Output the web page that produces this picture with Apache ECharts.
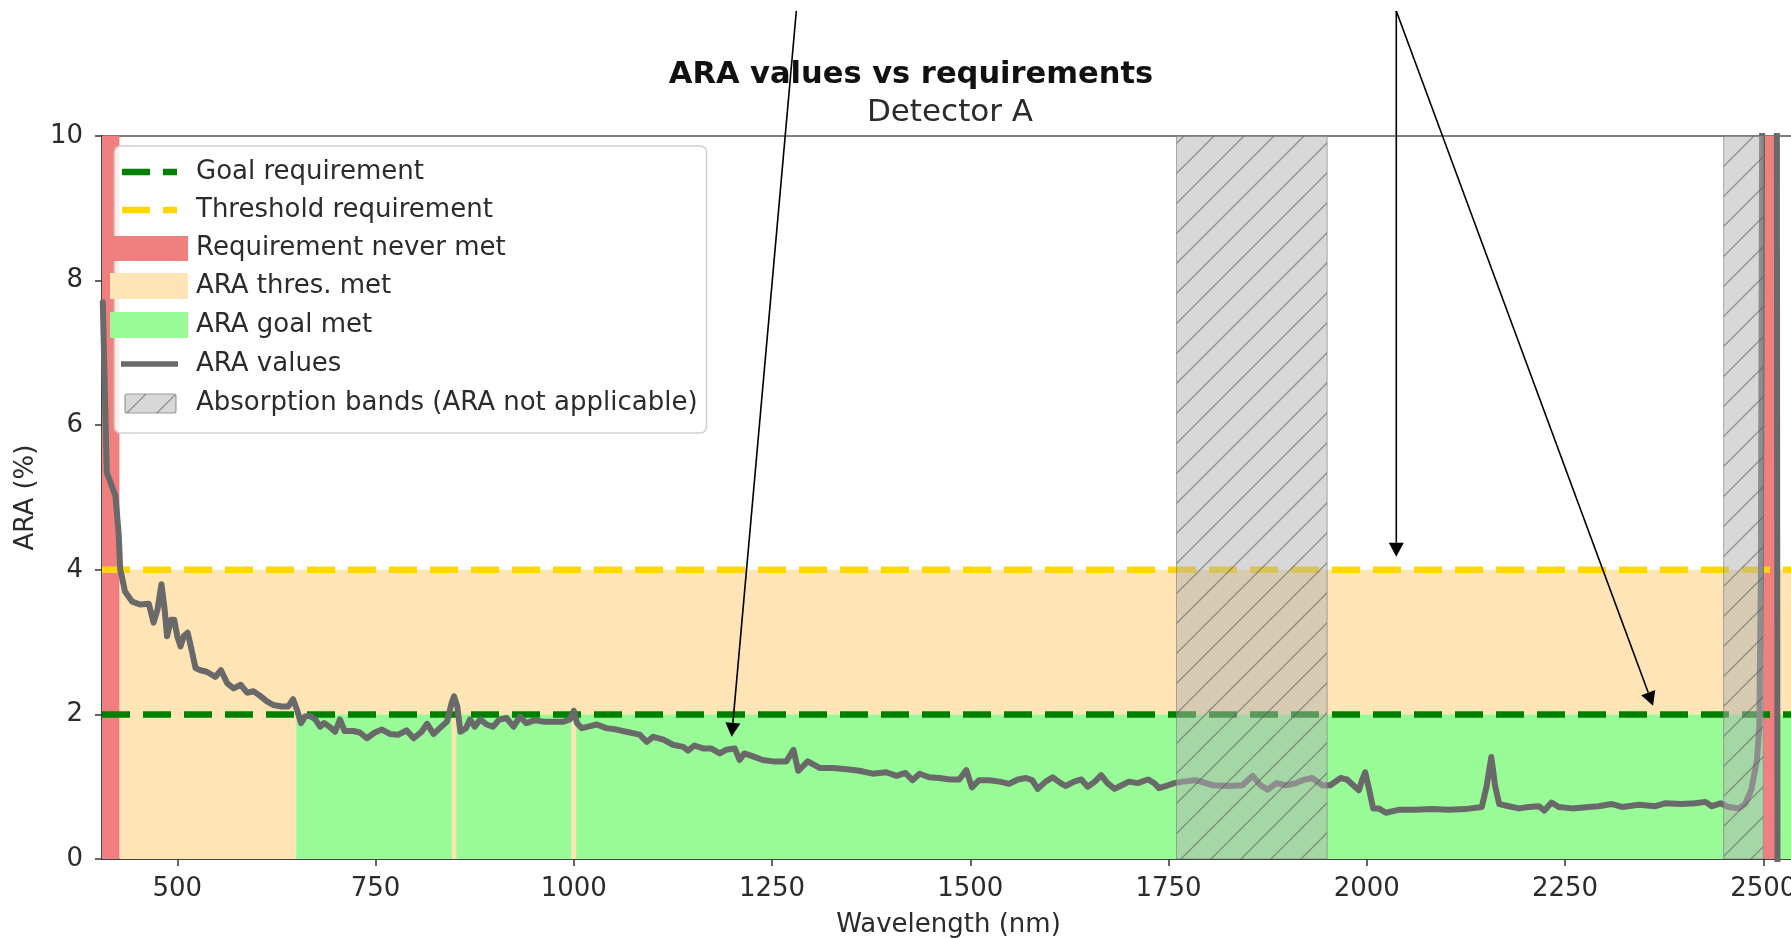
<!DOCTYPE html>
<html>
<head>
<meta charset="utf-8">
<script src="https://cdn.jsdelivr.net/npm/echarts@6/dist/echarts.min.js"></script>
<style>
html,body{margin:0;padding:0;background:#ffffff;}
#chart{width:1791px;height:938px;}
</style>
</head>
<body>
<div id="chart"></div>
<script>
// ---------------- data ----------------
const wavelengths = [406,411,416,422,426,428,430,434,443,453,464,470,475,480,484,487,492,496,500,504,508,513,517,523,529,537,548,555,563,571,580,588,596,604,613,621,632,640,646,651,656,661,667,674,680,685,692,699,705,711,722,730,739,749,758,768,779,789,798,808,815,823,831,840,846,849,853,857,864,869,875,882,890,898,906,915,924,932,940,951,962,974,987,995,1000,1004,1010,1018,1029,1041,1054,1066,1083,1092,1100,1113,1125,1138,1144,1152,1163,1173,1184,1192,1203,1209,1215,1226,1238,1251,1268,1277,1283,1295,1310,1327,1344,1360,1377,1394,1407,1418,1427,1436,1448,1461,1474,1486,1495,1502,1511,1524,1537,1549,1560,1570,1578,1585,1595,1604,1614,1620,1631,1640,1648,1657,1665,1673,1682,1691,1700,1711,1724,1732,1738,1747,1757,1768,1784,1806,1827,1843,1856,1866,1875,1886,1898,1911,1919,1931,1944,1954,1967,1975,1984,1990,1994,1998,2003,2008,2015,2024,2040,2061,2082,2103,2124,2145,2151,2157,2162,2167,2179,2192,2204,2217,2224,2233,2242,2259,2280,2292,2309,2322,2343,2364,2376,2397,2414,2427,2435,2446,2456,2469,2477,2485,2492,2495,2497,2499,2517,2518];
const araValues = [7.7,5.35,5.2,5.02,4.5,4.0,3.91,3.70,3.56,3.52,3.53,3.27,3.45,3.80,3.45,3.08,3.31,3.31,3.08,2.94,3.08,3.13,2.94,2.64,2.61,2.59,2.52,2.61,2.43,2.36,2.41,2.30,2.32,2.26,2.18,2.13,2.11,2.11,2.21,2.06,1.88,1.97,1.98,1.93,1.83,1.88,1.83,1.76,1.93,1.77,1.77,1.75,1.67,1.75,1.79,1.73,1.72,1.78,1.67,1.76,1.87,1.73,1.81,1.90,2.16,2.25,2.11,1.76,1.81,1.93,1.83,1.93,1.86,1.83,1.93,1.95,1.83,1.97,1.88,1.92,1.90,1.90,1.90,1.93,2.05,1.88,1.81,1.83,1.86,1.81,1.79,1.76,1.72,1.62,1.69,1.65,1.58,1.55,1.50,1.57,1.53,1.53,1.46,1.51,1.53,1.37,1.46,1.42,1.37,1.35,1.35,1.51,1.22,1.35,1.26,1.26,1.24,1.22,1.18,1.20,1.15,1.19,1.09,1.18,1.13,1.12,1.10,1.10,1.23,0.99,1.09,1.09,1.07,1.04,1.10,1.12,1.09,0.97,1.07,1.13,1.05,1.01,1.07,1.10,1.00,1.07,1.16,1.05,0.97,1.02,1.07,1.05,1.10,1.05,0.98,1.01,1.05,1.07,1.09,1.02,1.01,1.02,1.15,1.02,0.96,1.05,1.02,1.05,1.09,1.12,1.02,1.02,1.12,1.10,1.01,0.95,1.09,1.20,0.96,0.70,0.70,0.64,0.68,0.68,0.69,0.68,0.69,0.72,1.00,1.41,1.00,0.76,0.73,0.70,0.72,0.73,0.67,0.78,0.72,0.70,0.72,0.73,0.76,0.72,0.75,0.73,0.77,0.76,0.77,0.79,0.73,0.77,0.72,0.70,0.76,0.96,1.37,1.83,4.0,12,12,-1];

const goalRequirement = 2;
const thresholdRequirement = 4;
const xMin = 405, xMax = 2540, yMin = 0, yMax = 10;
const xTickValues = [500,750,1000,1250,1500,1750,2000,2250,2500];

// wavelength ranges [start, end] of each region
const neverMetRanges = [[405,427],[2500,2515]];
const thresMetRanges = [[427,2500],[2515,2540]];
const goalMetRanges = [[650,846],[852,997],[1003,2500],[2517,2540]];
const absorptionRanges = [[1760,1950],[2450,2500]];

const legendLabels = ['Goal requirement','Threshold requirement','Requirement never met','ARA thres. met','ARA goal met','ARA values','Absorption bands (ARA not applicable)'];

// annotation arrows: [tailX, tailY] -> [tipX, tipY] in data units
const arrowTails = [[1280.6,11.73],[2037.2,11.73],[2037.2,11.73]];
const arrowTips = [[1199,1.69],[2037.2,4.18],[2361,2.12]];

// ---------------- styling ----------------
const FONT = 'DejaVu Sans';
const TXT = '#2b2b2b';
const C_RED = '#F08080', C_MOC = '#FFE4B5', C_GREEN = '#98FB98';
const C_GOAL = '#008000', C_THR = '#FFD700', C_ARA = '#696969';

function makeHatch() {
  const s = 30;
  const cv = document.createElement('canvas');
  cv.width = s; cv.height = s;
  const ctx = cv.getContext('2d');
  ctx.fillStyle = 'rgba(178,178,178,0.5)';
  ctx.fillRect(0,0,s,s);
  ctx.strokeStyle = 'rgba(90,90,90,0.55)';
  ctx.lineWidth = 1.4;
  ctx.beginPath();
  ctx.moveTo(-5, s+5); ctx.lineTo(s+5, -5);
  ctx.moveTo(-5, 5); ctx.lineTo(5, -5);
  ctx.moveTo(s-5, s+5); ctx.lineTo(s+5, s-5);
  ctx.stroke();
  return cv;
}
const hatchCanvas = makeHatch();
const hatchFill = {type:'pattern', image: hatchCanvas, repeat: 'repeat'};

function bandSeries(name, ranges, y0, y1, fill, z, stroke) {
  return {
    name: name, type: 'custom', z: z, silent: true, clip: true,
    data: ranges.map(r => [r[0], r[1], y0, y1]),
    renderItem: function (params, api) {
      const p0 = api.coord([api.value(0), api.value(3)]);
      const p1 = api.coord([api.value(1), api.value(2)]);
      const style = {fill: fill};
      if (stroke) { style.stroke = stroke; style.lineWidth = 1; }
      return {type: 'rect', shape: {x: p0[0], y: p0[1], width: p1[0]-p0[0], height: p1[1]-p0[1]}, style: style};
    }
  };
}

const chart = echarts.init(document.getElementById('chart'), null, {renderer: 'canvas'});

const option = {
  backgroundColor: '#ffffff',
  animation: false,
  grid: {left: 102, right: -4, top: 136, bottom: 79, containLabel: false, outerBoundsMode: 'none',
         show: true, borderColor: '#555', borderWidth: 1.5, backgroundColor: 'transparent'},
  xAxis: {
    type: 'value', min: xMin, max: xMax,
    name: 'Wavelength (nm)', nameLocation: 'middle', nameGap: 53,
    nameTextStyle: {fontFamily: FONT, fontSize: 26, color: TXT},
    axisLine: {lineStyle: {color: '#333', width: 1.5}},
    axisTick: {show: true, length: 7, lineStyle: {color: '#333', width: 1.5}, customValues: xTickValues},
    axisLabel: {fontFamily: FONT, fontSize: 26, color: TXT, margin: 17, customValues: xTickValues, hideOverlap: false,
                formatter: function (v) { return String(Math.round(v)); }},
    splitLine: {show: false}
  },
  yAxis: {
    type: 'value', min: yMin, max: yMax, interval: 2,
    name: 'ARA (%)', nameLocation: 'middle', nameGap: 62, nameRotate: 90,
    nameTextStyle: {fontFamily: FONT, fontSize: 26, color: TXT},
    axisLine: {show: true, lineStyle: {color: '#333', width: 1.5}},
    axisTick: {show: true, length: 7, lineStyle: {color: '#333', width: 1.5}},
    axisLabel: {fontFamily: FONT, fontSize: 26, color: TXT, margin: 19},
    splitLine: {show: false}
  },
  series: [
    bandSeries('ARA thres. met', thresMetRanges, 0, thresholdRequirement, C_MOC, 1),
    bandSeries('ARA goal met', goalMetRanges, 0, goalRequirement, C_GREEN, 1),
    bandSeries('Requirement never met', neverMetRanges, 0, yMax, C_RED, 1),
    {name: 'Goal requirement', type: 'line', z: 2, silent: true, symbol: 'none',
     data: [[xMin, goalRequirement],[xMax, goalRequirement]],
     lineStyle: {color: C_GOAL, width: 6.5, type: [28,13], cap: 'butt'}},
    {name: 'Threshold requirement', type: 'line', z: 2, silent: true, symbol: 'none',
     data: [[xMin, thresholdRequirement],[xMax, thresholdRequirement]],
     lineStyle: {color: C_THR, width: 6.5, type: [28,13], cap: 'butt'}},
    {name: 'ARA values', type: 'line', z: 3, silent: true, symbol: 'none', clip: true,
     data: wavelengths.map((w,i) => [w, araValues[i]]),
     lineStyle: {color: C_ARA, width: 6, join: 'round', cap: 'round'}},
    bandSeries('Absorption bands (ARA not applicable)', absorptionRanges, yMin, yMax, hatchFill, 4, 'rgba(120,120,120,0.6)')
  ]
};
chart.setOption(option);

// ---------------- graphics: titles, legend, arrows ----------------
const g = [];
g.push({type: 'text', z: 20, style: {x: 911, y: 75, text: 'ARA values vs requirements', font: 'bold 30.5px "DejaVu Sans"', fill: '#111', align: 'center', verticalAlign: 'middle'}});
g.push({type: 'text', z: 20, style: {x: 950, y: 113, text: 'Detector A', font: '31px "DejaVu Sans"', fill: TXT, align: 'center', verticalAlign: 'middle'}});

// legend frame
g.push({type: 'rect', z: 10, shape: {x: 114.5, y: 146, width: 592, height: 287, r: 6},
        style: {fill: 'rgba(255,255,255,0.85)', stroke: '#d0d0d0', lineWidth: 1.5}});
const rowY = [172, 210, 248.5, 286, 325, 364, 403.5];
// handles
g.push({type: 'line', z: 11, shape: {x1: 122, y1: rowY[0], x2: 177, y2: rowY[0]}, style: {stroke: C_GOAL, lineWidth: 6.5, lineDash: [28,13]}});
g.push({type: 'line', z: 11, shape: {x1: 122, y1: rowY[1], x2: 177, y2: rowY[1]}, style: {stroke: C_THR, lineWidth: 6.5, lineDash: [28,13]}});
g.push({type: 'rect', z: 11, shape: {x: 108, y: rowY[2]-12.5, width: 80, height: 25}, style: {fill: C_RED}});
g.push({type: 'rect', z: 11, shape: {x: 110, y: rowY[3]-13, width: 78, height: 26}, style: {fill: C_MOC}});
g.push({type: 'rect', z: 11, shape: {x: 110, y: rowY[4]-13, width: 78, height: 26}, style: {fill: C_GREEN}});
g.push({type: 'line', z: 11, shape: {x1: 121, y1: rowY[5], x2: 178, y2: rowY[5]}, style: {stroke: C_ARA, lineWidth: 5.5}});
g.push({type: 'rect', z: 11, shape: {x: 125, y: rowY[6]-9.5, width: 51, height: 19, r: 2}, style: {fill: hatchFill, stroke: 'rgba(120,120,120,0.7)', lineWidth: 1.2}});
legendLabels.forEach((t, i) => {
  g.push({type: 'text', z: 11, style: {x: 196, y: rowY[i], text: t, font: '26px "DejaVu Sans"', fill: TXT, align: 'left', verticalAlign: 'middle'}});
});

// arrows
arrowTails.forEach((tail, i) => {
  const a = chart.convertToPixel({gridIndex: 0}, tail);
  const b = chart.convertToPixel({gridIndex: 0}, arrowTips[i]);
  const dx = b[0]-a[0], dy = b[1]-a[1];
  const L = Math.sqrt(dx*dx+dy*dy);
  const ux = dx/L, uy = dy/L, nx = -uy, ny = ux;
  const hl = 14, hw = 7.5;
  const bx = b[0]-ux*hl, by = b[1]-uy*hl;
  g.push({type: 'line', z: 30, shape: {x1: a[0], y1: a[1], x2: bx, y2: by}, style: {stroke: '#000', lineWidth: 1.6}});
  g.push({type: 'polygon', z: 30, shape: {points: [[b[0], b[1]], [bx+nx*hw, by+ny*hw], [bx-nx*hw, by-ny*hw]]}, style: {fill: '#000'}});
});
chart.setOption({graphic: g});
</script>
</body>
</html>
